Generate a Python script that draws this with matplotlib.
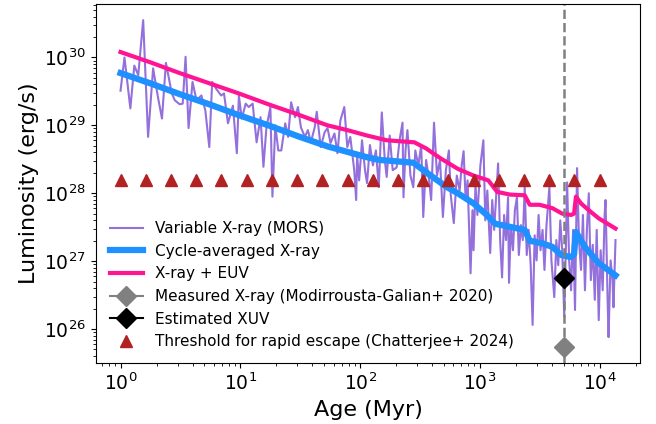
import numpy as np
import matplotlib
matplotlib.use("Agg")
import matplotlib.pyplot as plt

# variable X-ray luminosity (MORS) as log10(age/Myr), log10(L)
var_log_age = [
    0.000, 0.033, 0.082, 0.115, 0.148, 0.189, 0.230, 0.272, 0.313, 0.346,
    0.379, 0.428, 0.453, 0.494, 0.519, 0.543, 0.568, 0.601, 0.634, 0.675,
    0.708, 0.741, 0.765, 0.798, 0.840, 0.864, 0.897, 0.938, 0.971, 0.988,
    1.012, 1.045, 1.070, 1.103, 1.136, 1.169, 1.193, 1.218, 1.251, 1.268,
    1.292, 1.317, 1.342, 1.375, 1.399, 1.424, 1.457, 1.481, 1.506, 1.539,
    1.564, 1.589, 1.621, 1.638, 1.671, 1.704, 1.728, 1.753, 1.786, 1.811,
    1.835, 1.868, 1.893, 1.918, 1.951, 1.967, 1.975, 1.992, 2.016, 2.041,
    2.058, 2.082, 2.107, 2.132, 2.156, 2.181, 2.206, 2.222, 2.247, 2.272,
    2.305, 2.329, 2.354, 2.362, 2.379, 2.395, 2.420, 2.444, 2.461, 2.486,
    2.510, 2.527, 2.551, 2.576, 2.593, 2.617, 2.642, 2.667, 2.691, 2.716,
    2.741, 2.757, 2.782, 2.807, 2.831, 2.848, 2.864, 2.881, 2.897, 2.922,
    2.938, 2.947, 2.963, 2.979, 3.004, 3.029, 3.045, 3.062, 3.086, 3.103,
    3.119, 3.136, 3.152, 3.169, 3.185, 3.202, 3.218, 3.235, 3.243, 3.259,
    3.276, 3.292, 3.309, 3.325, 3.342, 3.358, 3.374, 3.391, 3.407, 3.424,
    3.440, 3.457, 3.473, 3.490, 3.506, 3.523, 3.539, 3.556, 3.580, 3.597,
    3.621, 3.638, 3.654, 3.671, 3.687, 3.704, 3.720, 3.728, 3.745, 3.761,
    3.778, 3.794, 3.811, 3.827, 3.844, 3.860, 3.877, 3.893, 3.909, 3.926,
    3.942, 3.959, 3.975, 3.992, 4.008, 4.025, 4.041, 4.049, 4.066, 4.074,
    4.091, 4.107, 4.115, 4.132,
]
var_log_lx = [
    29.51, 30.00, 29.25, 29.88, 29.74, 30.55, 28.83, 29.84, 29.41, 29.10,
    29.92, 29.47, 29.37, 29.31, 29.32, 30.01, 28.96, 29.64, 29.37, 29.44,
    29.22, 28.68, 29.64, 29.54, 29.44, 29.47, 29.03, 29.29, 28.59, 29.44,
    29.10, 29.32, 29.27, 29.32, 28.75, 29.12, 28.39, 28.97, 29.27, 27.95,
    29.00, 28.63, 28.63, 29.03, 28.83, 29.34, 29.12, 29.27, 28.97, 28.83,
    28.93, 28.75, 28.97, 29.20, 28.68, 28.90, 28.96, 28.74, 28.88, 28.59,
    29.07, 29.27, 28.68, 28.83, 28.34, 27.90, 28.56, 28.19, 28.78, 28.34,
    28.15, 28.71, 28.41, 28.63, 28.09, 29.19, 28.49, 28.24, 28.85, 28.34,
    28.38, 28.78, 29.04, 27.94, 28.63, 28.93, 28.26, 28.09, 28.63, 28.41,
    28.71, 27.65, 28.49, 28.19, 27.90, 29.04, 28.26, 28.49, 27.65, 28.34,
    28.63, 27.97, 27.56, 28.26, 28.04, 28.41, 28.62, 27.90, 28.19, 26.82,
    27.75, 27.16, 28.12, 27.68, 28.41, 28.78, 27.60, 28.04, 27.12, 27.90,
    27.46, 27.97, 28.44, 27.31, 26.76, 27.68, 27.31, 27.94, 26.68, 27.53,
    27.16, 27.75, 27.94, 27.09, 27.53, 27.31, 28.09, 27.09, 27.46, 26.94,
    26.06, 27.38, 27.01, 27.68, 27.16, 27.46, 26.87, 27.53, 28.09, 27.01,
    26.47, 27.31, 26.94, 27.60, 27.16, 26.18, 27.38, 28.16, 27.01, 26.57,
    27.46, 26.28, 28.37, 27.31, 26.87, 27.68, 26.57, 27.46, 28.00, 26.72,
    27.24, 26.43, 27.46, 26.13, 27.16, 26.57, 27.68, 27.90, 26.43, 25.88,
    27.01, 26.72, 26.32, 27.31,
]

# cycle-averaged X-ray
avg_log_age = [0.000, 0.247, 0.494, 0.741, 0.988, 1.235, 1.481, 1.728, 1.893, 2.058,
               2.165, 2.305, 2.444, 2.551, 2.716, 2.815, 2.947, 3.045, 3.128, 3.374,
               3.416, 3.523, 3.605, 3.679, 3.761, 3.786, 3.802, 3.844, 3.885, 3.992, 4.132]
avg_log_lx = [29.77, 29.62, 29.46, 29.31, 29.15, 29.00, 28.84, 28.69, 28.61, 28.53,
              28.49, 28.47, 28.45, 28.31, 28.10, 28.00, 27.85, 27.70, 27.55, 27.46,
              27.30, 27.26, 27.21, 27.09, 27.06, 27.10, 27.43, 27.30, 27.19, 26.97, 26.79]

# X-ray + EUV
xuv_log_age = [0.000, 0.247, 0.494, 0.741, 0.988, 1.235, 1.481, 1.728, 1.893, 2.058,
               2.222, 2.453, 2.551, 2.675, 2.815, 2.947, 3.070, 3.144, 3.251, 3.374,
               3.416, 3.498, 3.605, 3.687, 3.761, 3.786, 3.802, 3.844, 3.909, 3.992, 4.132]
xuv_log_l = [30.08, 29.93, 29.77, 29.62, 29.47, 29.31, 29.16, 29.00, 28.93, 28.85,
             28.78, 28.75, 28.66, 28.51, 28.36, 28.26, 28.19, 28.02, 27.98, 27.97,
             27.83, 27.83, 27.78, 27.70, 27.68, 27.70, 27.95, 27.85, 27.75, 27.63, 27.48]

system_age = 5000
measured_lx = 5.5e25
estimated_xuv = 5.6e26

threshold_ages = [1, 1.62, 2.64, 4.28, 6.95, 11.3, 18.3, 29.8, 48.3, 78.5,
                  127, 207, 336, 546, 886, 1438, 2336, 3793, 6158, 10000]
threshold_l = [1.55e28] * len(threshold_ages)

fig = plt.figure(figsize=(6.56, 4.24), dpi=100)
ax = fig.add_axes([0.146, 0.144, 0.830, 0.847])

ax.plot(10 ** np.array(var_log_age), 10 ** np.array(var_log_lx), color='mediumpurple',
        lw=1.5, label='Variable X-ray (MORS)')
ax.plot(10 ** np.array(avg_log_age), 10 ** np.array(avg_log_lx), color='dodgerblue',
        lw=4.5, label='Cycle-averaged X-ray')
ax.plot(10 ** np.array(xuv_log_age), 10 ** np.array(xuv_log_l), color='deeppink',
        lw=3, label='X-ray + EUV')
ax.axvline(system_age, color='gray', ls='--', lw=1.8)
ax.plot([system_age], [measured_lx], marker='D', ms=10, color='gray', ls='-',
        label='Measured X-ray (Modirrousta-Galian+ 2020)')
ax.plot([system_age], [estimated_xuv], marker='D', ms=10, color='black', ls='-',
        label='Estimated XUV')
ax.plot(threshold_ages, threshold_l, marker='^', ms=9, ls='none', color='firebrick',
        label='Threshold for rapid escape (Chatterjee+ 2024)')

ax.set_xscale('log')
ax.set_yscale('log')
ax.set_xlabel('Age (Myr)', fontsize=16)
ax.set_ylabel('Luminosity (erg/s)', fontsize=16)
ax.tick_params(axis='both', which='major', labelsize=13.5)
ax.legend(loc='lower left', frameon=False, fontsize=11, labelspacing=0.5,
          handlelength=2.2)

fig.savefig('out.png', dpi=100)
